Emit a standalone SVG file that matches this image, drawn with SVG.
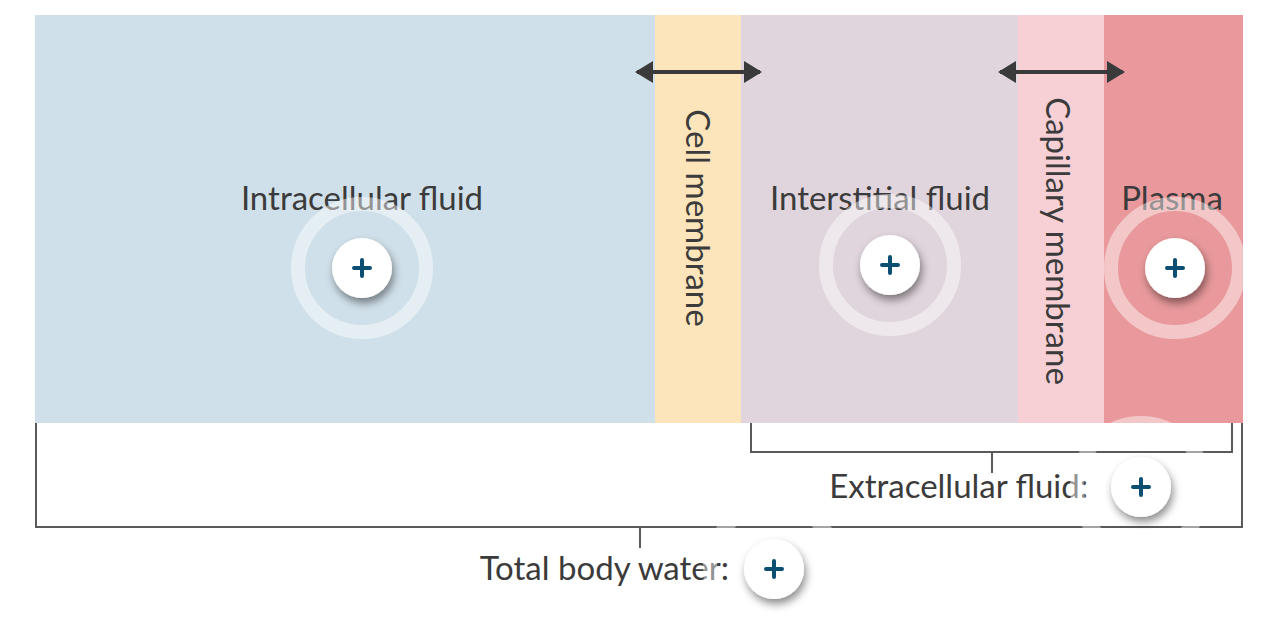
<svg xmlns="http://www.w3.org/2000/svg" width="1274" height="634" viewBox="0 0 1274 634">
<style>
.lbl{font-family:Lato,"Open Sans","Liberation Sans",sans-serif;font-size:33px;fill:#3b3b3b}
.br{fill:none;stroke:#5a5a5a;stroke-width:2}
.halo{fill:none;stroke:#ffffff;stroke-opacity:0.45;stroke-width:14}
.btn{fill:#ffffff;filter:url(#sh)}
.plus{stroke:#0d4e73;stroke-width:4;stroke-linecap:round}
.arr{stroke:#3a3a3a;stroke-width:4}
</style>
<defs>
<filter id="sh" x="-50%" y="-50%" width="200%" height="200%">
<feDropShadow dx="2" dy="5" stdDeviation="4" flood-color="#000" flood-opacity="0.45"/>
</filter>
<marker id="ah" viewBox="0 0 18 22" refX="16" refY="11" markerWidth="18" markerHeight="22" markerUnits="userSpaceOnUse" orient="auto-start-reverse">
<path d="M0,0 L18,11 L0,22 Z" fill="#3a3a3a"/>
</marker>
<clipPath id="band"><rect x="35" y="15" width="1208" height="408"/></clipPath>
</defs>
<rect width="1274" height="634" fill="#ffffff"/>
<g id="intracellular">
<rect x="35" y="15" width="620" height="408" fill="#d0e0ea"/>
<text class="lbl" x="362" y="210" text-anchor="middle">Intracellular fluid</text>
</g>
<g id="cell-membrane">
<rect x="655" y="15" width="86" height="408" fill="#fde5bb"/>
<text class="lbl" transform="translate(686,218) rotate(90)" text-anchor="middle">Cell membrane</text>
</g>
<g id="interstitial">
<rect x="741" y="15" width="277" height="408" fill="#e0d5dd"/>
<text class="lbl" x="880" y="210" text-anchor="middle">Interstitial fluid</text>
</g>
<g id="capillary-membrane">
<rect x="1018" y="15" width="86" height="408" fill="#f7d0d6"/>
<text class="lbl" transform="translate(1046,241) rotate(90)" text-anchor="middle">Capillary membrane</text>
</g>
<g id="plasma">
<rect x="1104" y="15" width="139" height="408" fill="#e9999b"/>
<text class="lbl" x="1172" y="210" text-anchor="middle">Plasma</text>
</g>
<g id="connectors">
<line class="arr" x1="637" y1="72" x2="760" y2="72" marker-start="url(#ah)" marker-end="url(#ah)"/>
<line class="arr" x1="1000" y1="72" x2="1123" y2="72" marker-start="url(#ah)" marker-end="url(#ah)"/>
<polyline class="br" points="751,423 751,452 1232,452 1232,423"/>
<line class="br" x1="992" y1="452" x2="992" y2="473"/>
<polyline class="br" points="36,423 36,527 1242,527 1242,423"/>
<line class="br" x1="640" y1="527" x2="640" y2="548"/>
</g>
<g id="extracellular">
<text class="lbl" x="1088" y="498" text-anchor="end">Extracellular fluid:</text>
</g>
<g id="total">
<text class="lbl" x="729" y="580" text-anchor="end">Total body water:</text>
</g>
<g id="halos">
<circle class="halo" cx="362" cy="268" r="64" clip-path="url(#band)"/>
<circle class="halo" cx="890" cy="265" r="64" clip-path="url(#band)"/>
<circle class="halo" cx="1175" cy="268" r="64" clip-path="url(#band)"/>
<circle class="halo" cx="1141" cy="487" r="64"/>
<circle class="halo" cx="774" cy="569" r="64"/>
</g>
<g id="btn-intracellular"><circle class="btn" cx="362" cy="268" r="30"/><path class="plus" d="M354,268h16M362,260v16"/></g>
<g id="btn-interstitial"><circle class="btn" cx="890" cy="265" r="30"/><path class="plus" d="M882,265h16M890,257v16"/></g>
<g id="btn-plasma"><circle class="btn" cx="1175" cy="268" r="30"/><path class="plus" d="M1167,268h16M1175,260v16"/></g>
<g id="btn-extracellular"><circle class="btn" cx="1141" cy="487" r="30"/><path class="plus" d="M1133,487h16M1141,479v16"/></g>
<g id="btn-total"><circle class="btn" cx="774" cy="569" r="30"/><path class="plus" d="M766,569h16M774,561v16"/></g>
</svg>
